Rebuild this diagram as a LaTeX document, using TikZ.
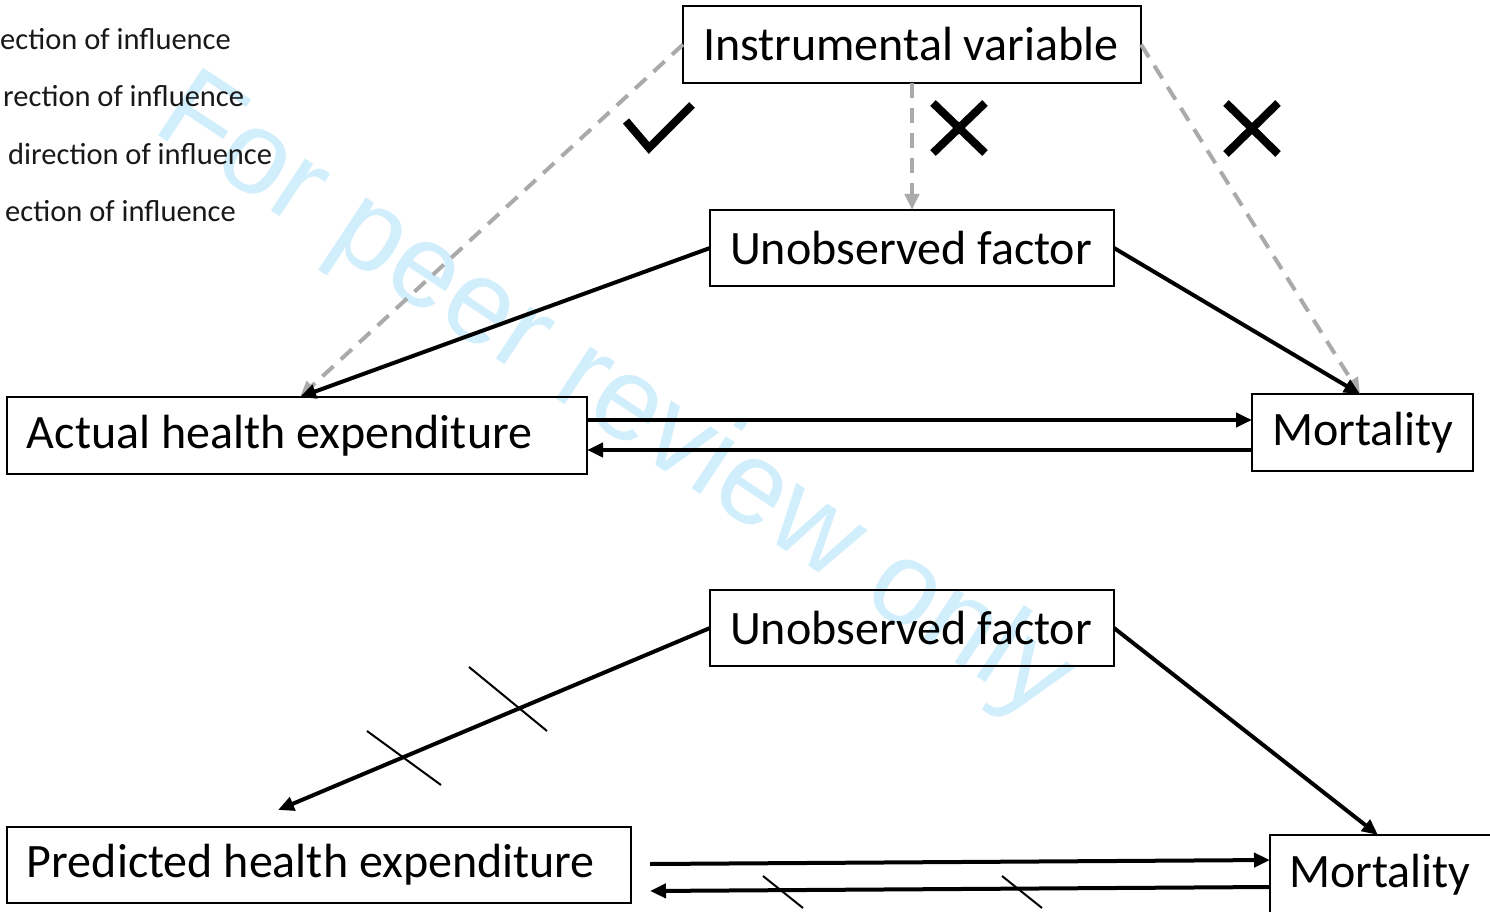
\documentclass[tikz,border=0pt]{standalone}
\usepackage{fontspec}
\setmainfont{Carlito}
\newfontfamily\wmfont{Liberation Sans}
\usetikzlibrary{arrows.meta}
\definecolor{wmcol}{RGB}{208,238,251}
\definecolor{dashgray}{RGB}{170,170,170}
\newcommand{\boxtext}[2]{\makebox[#1][l]{#2}}
\begin{document}
\begin{tikzpicture}[x=1pt,y=-1pt,
  box/.style={draw=black,line width=2pt,inner xsep=20pt,inner ysep=0pt,outer sep=0pt,font=\fontsize{48}{50}\selectfont},
  legend/.style={anchor=base west,inner sep=0pt,font=\fontsize{30.5}{32}\selectfont,text=black!90},
  solidarr/.style={line width=4pt,-{Triangle[length=16pt,width=14pt]}},
  dasharr/.style={line width=4pt,draw=dashgray,dash pattern=on 15pt off 10pt,-{Triangle[length=16pt,width=14pt,fill=dashgray]}},
  tickline/.style={line width=2pt},
  signmark/.style={line width=8pt}
]
\useasboundingbox (0,0) rectangle (1490,912);
\fill[white] (0,0) rectangle (1490,912);
% watermark
\node[anchor=base west,inner sep=0pt,rotate=-33.5,text=wmcol,font=\wmfont\fontsize{118}{120}\selectfont] (wm) at (150,130) {For peer review only};
% legend
\node[legend] (l1) at (0,50) {ection of influence};
\node[legend] (l2) at (3,107) {rection of influence};
\node[legend] (l3) at (8,165) {direction of influence};
\node[legend] (l4) at (5,222) {ection of influence};
% boxes
\node[box,minimum height=77pt] (iv) at (912,44.5) {\boxtext{418pt}{Instrumental variable}};
\node[box,minimum height=76pt] (uf1) at (912,248) {\boxtext{364pt}{Unobserved factor}};
\node[box,minimum height=77pt] (ahe) at (297,435.5) {\boxtext{540pt}{Actual health expenditure}};
\node[box,minimum height=77pt] (m1) at (1362.5,432.5) {\boxtext{181pt}{Mortality}};
\node[box,minimum height=76pt] (uf2) at (912,628) {\boxtext{364pt}{Unobserved factor}};
\node[box,minimum height=76pt] (phe) at (319,865) {\boxtext{584pt}{Predicted health expenditure}};
\node[box,minimum height=84pt,minimum width=226pt] (m2) at (1383,877) {};
\node[anchor=west,inner sep=0pt,font=\fontsize{48}{50}\selectfont] (m2t) at (1289,875) {Mortality};
% coordinates
\coordinate (aheTop) at (300,397);
\coordinate (m1Top) at (1360,394);
\coordinate (pheTop) at (278,810);
\coordinate (m2Top) at (1378,835);
% dashed IV arrows
\draw[dasharr] (iv.west) -- (aheTop);
\draw[dasharr] (iv.south) -- (uf1.north);
\draw[dasharr] (iv.east) -- (m1Top);
% solid upper
\draw[solidarr] (uf1.west) -- (aheTop);
\draw[solidarr] (uf1.east) -- (m1Top);
\draw[solidarr] (ahe.east |- 0,420) -- (m1.west |- 0,420);
\draw[solidarr] (m1.west |- 0,450) -- (ahe.east |- 0,450);
% solid lower
\draw[solidarr] (uf2.west) -- (pheTop);
\draw[solidarr] (uf2.east) -- (m2Top);
\coordinate (p1) at (650,864);
\coordinate (p2) at (1270,860);
\coordinate (p3) at (1270,887);
\coordinate (p4) at (650,891);
\draw[solidarr] (p1) -- (p2);
\draw[solidarr] (p3) -- (p4);
% ticks
\draw[tickline] (367,731) -- (441,785);
\draw[tickline] (469,667) -- (547,731);
\draw[tickline] (763,876) -- (803,908);
\draw[tickline] (1002,876) -- (1042,908);
% check and crosses
\draw[signmark,line join=miter] (626,121) -- (649,148) -- (692,105);
\draw[signmark] (933,103) -- (985,153) (933,153) -- (985,103);
\draw[signmark] (1226,103) -- (1278,154) (1226,154) -- (1278,103);
\end{tikzpicture}
\end{document}
